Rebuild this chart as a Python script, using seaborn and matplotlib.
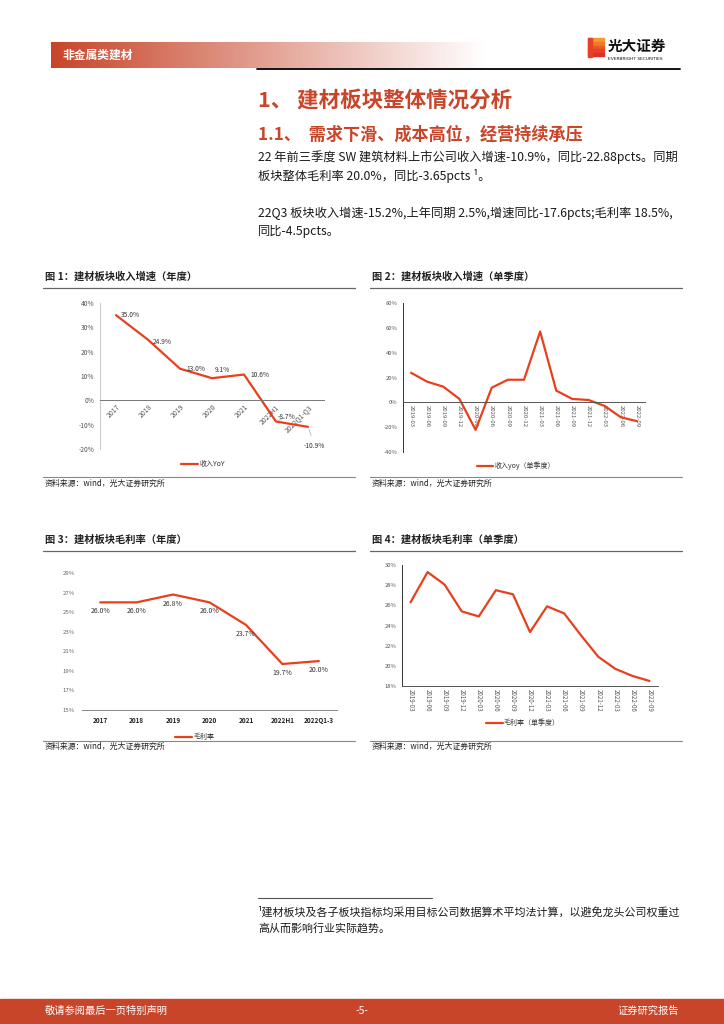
import numpy as np
import pandas as pd
import matplotlib
matplotlib.use('Agg')
import matplotlib.pyplot as plt
import seaborn as sns
from matplotlib.lines import Line2D
from matplotlib.patches import Rectangle
from matplotlib.ticker import FixedLocator

# ---------------- data ----------------
annual_years = ['2017', '2018', '2019', '2020', '2021', '2022H1', '2022Q1-Q3']
annual_rev_yoy = [35.0, 24.9, 13.0, 9.1, 10.6, -8.7, -10.9]

quarters = ['2019-03', '2019-06', '2019-09', '2019-12', '2020-03', '2020-06', '2020-09',
            '2020-12', '2021-03', '2021-06', '2021-09', '2021-12', '2022-03', '2022-06', '2022-09']
quarter_rev_yoy = [23.8, 16.6, 12.6, 2.7, -22.2, 11.8, 18.2, 18.2, 57.0, 9.4, 2.7, 1.9, -2.9, -12.0, -15.2]

gm_years = ['2017', '2018', '2019', '2020', '2021', '2022H1', '2022Q1-3']
annual_gm = [26.0, 26.0, 26.8, 26.0, 23.7, 19.7, 20.0]

quarter_gm = [26.3, 29.3, 28.05, 25.4, 24.9, 27.5, 27.1, 23.35, 25.9, 25.2, 23.0, 20.9, 19.7, 19.0, 18.5]

# ---------------- style ----------------
sns.set_style('white')
plt.rcParams['font.family'] = ['Noto Sans CJK SC', 'DejaVu Sans']
plt.rcParams['axes.unicode_minus'] = False

W, H = 724, 1024
RED = '#E8401C'
BRAND = '#C8452A'
fig = plt.figure(figsize=(W / 100, H / 100), dpi=100)
fig.patch.set_facecolor('white')


def fx(x):
    return x / W


def fy(y):
    return 1 - y / H


def T(x, y, s, **kw):
    kw.setdefault('va', 'center')
    return fig.text(fx(x), fy(y), s, **kw)


def hline(x0, x1, y, color='#555555', lw=0.8):
    fig.add_artist(Line2D([fx(x0), fx(x1)], [fy(y), fy(y)], color=color, lw=lw))


def add_ax(l, t, r, b):
    return fig.add_axes([fx(l), fy(b), (r - l) / W, (b - t) / H])


# ---------------- header ----------------
band = fig.add_axes([fx(51), fy(68), (485 - 51) / W, 26 / H])
c0 = np.array([200, 69, 42]) / 255.0
t = np.linspace(0, 1, 400)
grad = c0[None, :] * (1 - t[:, None]) + np.ones(3)[None, :] * t[:, None]
band.imshow(grad[None, :, :], aspect='auto', extent=[0, 1, 0, 1])
band.set_axis_off()
T(62, 55, '非金属类建材', color='white', fontsize=8.5, fontweight='bold')
hline(257, 680, 68.5, color='black', lw=1.3)

# logo
logo_cols = ['#F39A2A', '#EF7A25', '#EB5A25', '#E64026', '#E02F2A']
for i, c in enumerate(logo_cols):
    y0 = 38 + i * 3.8
    fig.add_artist(Rectangle((fx(588), fy(y0 + 3)), 16 / W, 3 / H, color=c,
                             transform=fig.transFigure))
fig.add_artist(Rectangle((fx(588), fy(57)), 4 / W, 19 / H, color='#E64026',
                         transform=fig.transFigure))
T(608, 46, '光大证券', fontsize=10.5, fontweight='bold', color='#111111')
T(608, 59, 'EVERBRIGHT SECURITIES', fontsize=3.2, color='#111111', family='DejaVu Sans')

# headings and body
T(258, 100, '1、 建材板块整体情况分析', fontsize=15.5, fontweight='bold', color=BRAND)
T(258, 135, '1.1、  需求下滑、成本高位，经营持续承压', fontsize=12.3, fontweight='bold', color=BRAND)
body = dict(fontsize=8.8, color='#1a1a1a')
T(258, 157, '22 年前三季度 SW 建筑材料上市公司收入增速-10.9%，同比-22.88pcts。同期', **body)
T(258, 176, '板块整体毛利率 20.0%，同比-3.65pcts ¹。', **body)
T(258, 213, '22Q3 板块收入增速-15.2%,上年同期 2.5%,增速同比-17.6pcts;毛利率 18.5%,', **body)
T(258, 231, '同比-4.5pcts。', **body)

# chart titles and rules
ttl = dict(fontsize=7.4, fontweight='bold', color='#222222')
T(45, 277, '图 1：建材板块收入增速（年度）', **ttl)
T(372, 277, '图 2：建材板块收入增速（单季度）', **ttl)
T(45, 540, '图 3：建材板块毛利率（年度）', **ttl)
T(372, 540, '图 4：建材板块毛利率（单季度）', **ttl)
hline(43, 355, 288, color='#666666', lw=0.9)
hline(370, 682, 288, color='#666666', lw=0.9)
hline(43, 355, 551, color='#666666', lw=0.9)
hline(370, 682, 551, color='#666666', lw=0.9)

src = dict(fontsize=5.7, color='#222222')
hline(43, 355, 477, color='#888888', lw=0.8)
hline(370, 682, 477, color='#888888', lw=0.8)
hline(43, 355, 741, color='#888888', lw=0.8)
hline(370, 682, 741, color='#888888', lw=0.8)
T(45, 483, '资料来源：wind，光大证券研究所', **src)
T(372, 483, '资料来源：wind，光大证券研究所', **src)
T(45, 746, '资料来源：wind，光大证券研究所', **src)
T(372, 746, '资料来源：wind，光大证券研究所', **src)

TICK_C = '#555555'


def pct(vals):
    return [f'{v}%' for v in vals]


def cat_axis(ax, n, labels, rot, fs, color=TICK_C, weight='normal'):
    ax.set_xlim(-0.5, n - 0.5)
    ax.set_xticks(range(n))
    if rot == 45:
        ax.set_xticklabels(labels, rotation=45, ha='right', rotation_mode='anchor',
                           fontsize=fs, color=color, fontweight=weight)
    elif rot == -90:
        ax.set_xticklabels(labels, rotation=-90, ha='center', va='top',
                           fontsize=fs, color=color, fontweight=weight)
    else:
        ax.set_xticklabels(labels, fontsize=fs, color=color, fontweight=weight)
    ax.xaxis.set_minor_locator(FixedLocator(np.arange(-0.5, n, 1.0)))
    ax.tick_params(axis='x', which='major', length=0, pad=2)
    ax.tick_params(axis='x', which='minor', length=2.5, width=0.6, color='#777777', direction='out')
    ax.set_xlabel('')
    ax.set_ylabel('')
    for s in ['top', 'right']:
        ax.spines[s].set_visible(False)
    ax.set_facecolor('none')


def place_legend(ax, cx, cy):
    ax.legend(loc='center', bbox_to_anchor=(fx(cx), fy(cy)), bbox_transform=fig.transFigure,
              frameon=False, fontsize=5, handlelength=2.4, handletextpad=0.2,
              labelcolor='#333333')


# ---------------- chart 1 ----------------
ax1 = add_ax(100, 303, 324, 449)
df1 = pd.DataFrame({'period': annual_years, 'yoy': annual_rev_yoy})
sns.lineplot(data=df1, x='period', y='yoy', ax=ax1, color=RED, lw=1.6, sort=False, label='收入YoY')
ax1.spines['bottom'].set_position(('data', 0))
cat_axis(ax1, len(annual_years), annual_years, 45, 4.9)
ax1.set_ylim(-20, 40)
ax1.set_yticks(range(-20, 41, 10))
ax1.set_yticklabels(pct(range(-20, 41, 10)), fontsize=4.8, color=TICK_C)
ax1.tick_params(axis='y', length=2, width=0.5, color='#BBBBBB', pad=2)
ax1.spines['left'].set_color('#CCCCCC')
ax1.spines['bottom'].set_color('#777777')
ax1.spines['bottom'].set_linewidth(0.7)
lab1_off = [(5, 0, 'left'), (5, -2, 'left'), (6, 0, 'left'), (10, 8, 'center'),
            (6, 0, 'left'), (2, 5, 'left'), (-4, -19, 'left')]
for i, v in enumerate(annual_rev_yoy):
    dx, dy, ha = lab1_off[i]
    arrow = dict(arrowstyle='-', color='#AAAAAA', lw=0.5) if i >= 5 else None
    ax1.annotate(f'{v:.1f}%', xy=(i, v), xytext=(dx / 1.389, dy / 1.389),
                 textcoords='offset points', ha=ha, va='center', fontsize=4.8,
                 color='#333333', arrowprops=arrow)
place_legend(ax1, 203, 464)

# ---------------- chart 2 ----------------
ax2 = add_ax(403, 303, 645, 452)
df2 = pd.DataFrame({'period': quarters, 'yoy': quarter_rev_yoy})
sns.lineplot(data=df2, x='period', y='yoy', ax=ax2, color=RED, lw=1.6, sort=False, label='收入yoy（单季度）')
ax2.spines['bottom'].set_position(('data', 0))
cat_axis(ax2, len(quarters), quarters, -90, 4.3)
ax2.set_ylim(-40, 80)
ax2.set_yticks(range(-40, 81, 20))
ax2.set_yticklabels(pct(range(-40, 81, 20)), fontsize=4.2, color=TICK_C)
ax2.tick_params(axis='y', length=2, width=0.5, color='#333333', pad=2)
ax2.spines['left'].set_color('#333333')
ax2.spines['left'].set_linewidth(0.7)
ax2.spines['bottom'].set_color('#555555')
ax2.spines['bottom'].set_linewidth(0.7)
place_legend(ax2, 516, 466)

# ---------------- chart 3 ----------------
ax3 = add_ax(82, 573, 337, 710)
df3 = pd.DataFrame({'period': gm_years, 'gm': annual_gm})
sns.lineplot(data=df3, x='period', y='gm', ax=ax3, color=RED, lw=1.6, sort=False, label='毛利率')
cat_axis(ax3, len(gm_years), gm_years, 0, 4.6, color='#222222', weight='bold')
ax3.tick_params(axis='x', which='major', pad=5)
ax3.set_ylim(15, 29)
ax3.set_yticks(range(15, 30, 2))
ax3.set_yticklabels(pct(range(15, 30, 2)), fontsize=4.3, color='#666666')
ax3.tick_params(axis='y', length=2, width=0.5, color='#888888', pad=3)
ax3.spines['left'].set_visible(False)
ax3.spines['bottom'].set_color('#888888')
ax3.spines['bottom'].set_linewidth(0.7)
for i, v in enumerate(annual_gm):
    ax3.annotate(f'{v:.1f}%', xy=(i, v), xytext=(0, -9 / 1.389), textcoords='offset points',
                 ha='center', va='center', fontsize=5, color='#333333')
place_legend(ax3, 195, 737)

# ---------------- chart 4 ----------------
ax4 = add_ax(402, 565, 658, 686)
df4 = pd.DataFrame({'period': quarters, 'gm': quarter_gm})
sns.lineplot(data=df4, x='period', y='gm', ax=ax4, color=RED, lw=1.6, sort=False, label='毛利率（单季度）')
cat_axis(ax4, len(quarters), quarters, -90, 4.4)
ax4.set_ylim(18, 30)
ax4.set_yticks(range(18, 31, 2))
ax4.set_yticklabels(pct(range(18, 31, 2)), fontsize=4.2, color=TICK_C)
ax4.tick_params(axis='y', length=2, width=0.5, color='#333333', pad=2)
ax4.spines['left'].set_color('#333333')
ax4.spines['left'].set_linewidth(0.7)
ax4.spines['bottom'].set_color('#555555')
ax4.spines['bottom'].set_linewidth(0.7)
place_legend(ax4, 523, 723)

# ---------------- footnote & footer ----------------
hline(258, 432, 898, color='#555555', lw=0.8)
fn = dict(fontsize=7.9, color='#1a1a1a')
T(258, 912, '¹建材板块及各子板块指标均采用目标公司数据算术平均法计算，以避免龙头公司权重过', **fn)
T(258, 929, '高从而影响行业实际趋势。', **fn)

fig.add_artist(Rectangle((0, 0), 1, 25 / H, color=BRAND, transform=fig.transFigure))
ft = dict(fontsize=7.4, color='white')
T(45, 1011, '敬请参阅最后一页特别声明', **ft)
T(362, 1011, '-5-', ha='center', **ft)
T(679, 1011, '证券研究报告', ha='right', **ft)

fig.savefig('out.png', dpi=100, facecolor='white')
